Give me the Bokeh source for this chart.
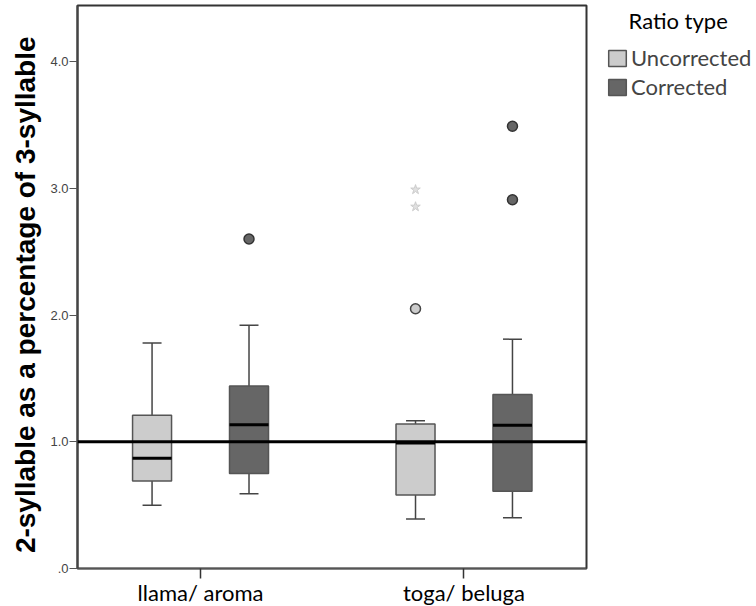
from bokeh.plotting import figure
from bokeh.models import (Range1d, FixedTicker, Span, Legend, LegendItem,
                          ColumnDataSource)
from bokeh.embed import file_html
from bokeh.resources import INLINE

# ---------------- data ----------------
categories = ["llama/ aroma", "toga/ beluga"]
series = ["Uncorrected", "Corrected"]

unc_low = [0.50, 0.39]
unc_q1 = [0.69, 0.58]
unc_med = [0.87, 0.99]
unc_q3 = [1.21, 1.14]
unc_high = [1.78, 1.166]

cor_low = [0.59, 0.40]
cor_q1 = [0.75, 0.61]
cor_med = [1.134, 1.13]
cor_q3 = [1.44, 1.373]
cor_high = [1.92, 1.81]

unc_outlier_cat = [1]
unc_outlier_val = [2.05]
unc_extreme_cat = [1, 1]
unc_extreme_val = [2.99, 2.855]
cor_outlier_cat = [0, 1, 1]
cor_outlier_val = [2.60, 3.49, 2.91]

y_ticks = [0, 1, 2, 3, 4]
y_tick_labels = [".0", "1.0", "2.0", "3.0", "4.0"]
reference_value = 1.0

# ---------------- style ----------------
LIGHT = "#cccccc"
DARK = "#666666"
EDGE = "#444444"
OFFSET = 0.184
BOX_W = 0.148
CAP_W = 0.072
LABEL_FONT = "Lato"
NB = "\u00a0"

p = figure(frame_width=509, frame_height=563, output_backend="svg",
           toolbar_location=None, x_range=Range1d(0.533, 2.465),
           y_range=Range1d(0, 4.443),
           min_border_left=77, min_border_right=168, min_border_top=5,
           min_border_bottom=30)
p.xgrid.visible = False
p.ygrid.visible = False
p.outline_line_color = "#333333"
p.outline_line_width = 2
p.background_fill_color = "white"
p.border_fill_color = "white"

p.add_layout(Span(location=reference_value, dimension="width",
                  line_color="black", line_width=3))

renderers = {}
for name, off, fill, lows, q1s, meds, q3s, highs in [
    ("Uncorrected", -OFFSET, LIGHT, unc_low, unc_q1, unc_med, unc_q3, unc_high),
    ("Corrected", OFFSET, DARK, cor_low, cor_q1, cor_med, cor_q3, cor_high),
]:
    xs = [i + 1 + off for i in range(len(categories))]
    src = ColumnDataSource(dict(
        x=xs,
        bx0=[x - BOX_W / 2 for x in xs], bx1=[x + BOX_W / 2 for x in xs],
        cx0=[x - CAP_W / 2 for x in xs], cx1=[x + CAP_W / 2 for x in xs],
        low=lows, q1=q1s, med=meds, q3=q3s, high=highs))
    # whiskers and caps
    p.segment(x0="x", y0="q3", x1="x", y1="high", source=src, line_color=EDGE, line_width=1.5)
    p.segment(x0="x", y0="low", x1="x", y1="q1", source=src, line_color=EDGE, line_width=1.5)
    p.segment(x0="cx0", y0="high", x1="cx1", y1="high", source=src, line_color=EDGE, line_width=1.5)
    p.segment(x0="cx0", y0="low", x1="cx1", y1="low", source=src, line_color=EDGE, line_width=1.5)
    r = p.vbar(x="x", bottom="q1", top="q3", width=BOX_W, source=src,
               fill_color=fill, line_color="#555555", line_width=1.5)
    renderers[name] = r
    p.segment(x0="bx0", y0="med", x1="bx1", y1="med", source=src,
              line_color="black", line_width=3)

p.scatter(x=[c + 1 - OFFSET for c in unc_outlier_cat], y=unc_outlier_val, size=10,
          fill_color=LIGHT, line_color="#444444", line_width=1.5)
p.scatter(x=[c + 1 - OFFSET for c in unc_extreme_cat], y=unc_extreme_val, size=10,
          marker="star", fill_color="#e0e0e0", line_color="#cccccc", line_width=1)
p.scatter(x=[c + 1 + OFFSET for c in cor_outlier_cat], y=cor_outlier_val, size=10,
          fill_color=DARK, line_color="#333333", line_width=1.5)

# axes
p.xaxis.ticker = FixedTicker(ticks=[1, 2])
p.xaxis.major_label_overrides = {i + 1: c for i, c in enumerate(categories)}
p.xaxis.major_tick_out = 10
p.xaxis.major_tick_in = 0
p.xaxis.minor_tick_line_color = None
p.xaxis.major_label_text_font = LABEL_FONT
p.xaxis.major_label_text_font_size = "22px"
p.xaxis.major_label_text_color = "black"
p.xaxis.major_label_standoff = 0
p.xaxis.axis_line_color = "#555555"
p.xaxis.axis_line_width = 1.5
p.xaxis.major_tick_line_color = "#333333"
p.xaxis.major_tick_line_width = 1.5

p.yaxis.ticker = FixedTicker(ticks=y_ticks)
p.yaxis.major_label_overrides = {t: l for t, l in zip(y_ticks, y_tick_labels)}
p.yaxis.major_tick_out = 8
p.yaxis.major_tick_in = 0
p.yaxis.minor_tick_line_color = None
p.yaxis.major_label_text_font = "Liberation Sans"
p.yaxis.major_label_text_font_size = "13px"
p.yaxis.major_label_text_color = "#444444"
p.yaxis.major_label_standoff = 1
p.yaxis.axis_line_color = "#444444"
p.yaxis.axis_line_width = 2
p.yaxis.major_tick_line_color = "#555555"
p.yaxis.axis_label = "2-syllable as a percentage of 3-syllable" + NB * 2
p.yaxis.axis_label_text_font = "Liberation Sans"
p.yaxis.axis_label_text_font_style = "bold"
p.yaxis.axis_label_text_font_size = "28px"
p.yaxis.axis_label_text_color = "black"
p.yaxis.axis_label_standoff = 6

legend = Legend(items=[LegendItem(label=s, renderers=[renderers[s]]) for s in series],
                title=NB * 4 + "Ratio type", title_text_font=LABEL_FONT,
                title_text_font_size="22px", title_text_font_style="normal",
                title_text_color="black", title_standoff=10,
                location=(20, 468), padding=0, margin=0, spacing=2,
                glyph_width=22, glyph_height=20, label_height=20, label_standoff=3,
                label_text_font=LABEL_FONT, label_text_font_size="22px",
                border_line_color=None, background_fill_alpha=0)
p.add_layout(legend, "right")

open("out.html", "w").write(file_html(p, INLINE))
